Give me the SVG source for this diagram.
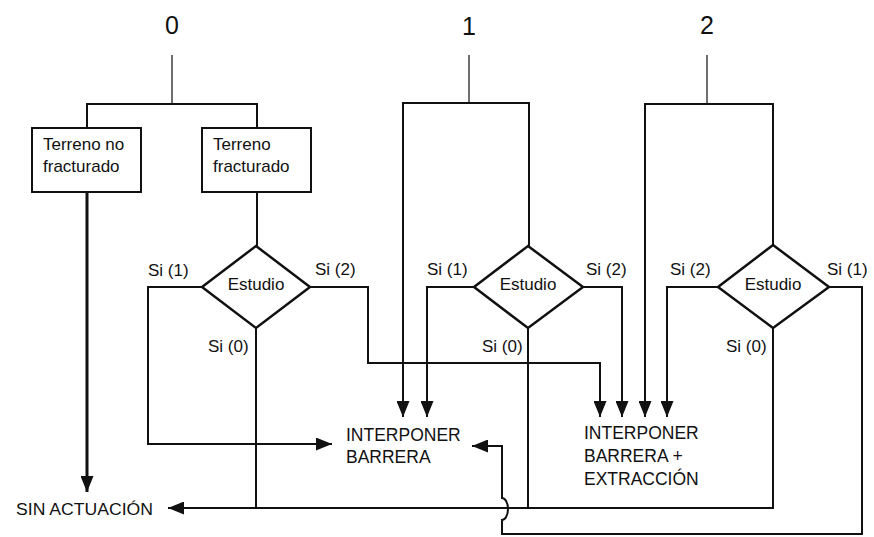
<svg xmlns="http://www.w3.org/2000/svg" width="874" height="537" viewBox="0 0 874 537">
<style>
  text { font-family: "Liberation Sans", Arial, sans-serif; fill: #111; }
  .num { font-size: 25px; text-anchor: middle; }
  .lbl { font-size: 17px; }
  .si { font-size: 17px; }
  .big { font-size: 17.5px; }
  .sin { font-size: 16.5px; }
  .box { fill: #fff; stroke: #111; stroke-width: 2; }
  .dia { fill: #fff; stroke: #111; stroke-width: 2.5; }
  .ln { fill: none; stroke: #111; stroke-width: 2; }
  .thick { stroke-width: 3; }
  .stem { fill: none; stroke: #333; stroke-width: 1.4; }
  .arr { marker-end: url(#ah); }
</style>
<defs>
  <marker id="ah" viewBox="0 0 16 13" refX="16" refY="6.5" markerWidth="16" markerHeight="13" markerUnits="userSpaceOnUse" orient="auto">
    <path d="M0,0 L16,6.5 L0,13 z" fill="#111"/>
  </marker>
</defs>
<rect width="874" height="537" fill="#fff"/>

<g id="connectors">
  <path class="stem" d="M172,55 V104"/>
  <path class="ln" d="M87,128 V104 H257 V128"/>
  <path class="ln thick arr" d="M87,192 V492"/>
  <path class="ln" d="M257,192 V246"/>
  <path class="ln arr" d="M202,287 H148 V444 H332"/>
  <path class="ln arr" d="M310,287 H368 V363 H600 V417"/>
  <path class="ln" d="M256,328 V508"/>
  <path class="ln" d="M528,328 V508"/>
  <path class="ln arr" d="M773,328 V508 H168"/>

  <path class="stem" d="M469,55 V103"/>
  <path class="ln arr" d="M469,103 H403 V417"/>
  <path class="ln" d="M469,103 H529 V246"/>
  <path class="ln arr" d="M474,287 H427 V417"/>
  <path class="ln arr" d="M583,287 H622 V417"/>

  <path class="stem" d="M707,55 V104"/>
  <path class="ln arr" d="M707,104 H645 V417"/>
  <path class="ln" d="M707,104 H773 V245"/>
  <path class="ln arr" d="M718,287 H667 V417"/>
  <path class="ln arr" d="M829,287 H862 V534 H502 V520 A6 11 0 0 0 502 498 V446 H472"/>
</g>

<g id="n-0"><text class="num" x="172" y="34">0</text></g>
<g id="n-1"><text class="num" x="469" y="35">1</text></g>
<g id="n-2"><text class="num" x="707" y="34">2</text></g>

<g id="box-no-fract">
  <rect class="box" x="32" y="128" width="109" height="64"/>
  <text class="lbl" x="43" y="150">Terreno no</text>
  <text class="lbl" x="43" y="172">fracturado</text>
</g>
<g id="box-fract">
  <rect class="box" x="202" y="128" width="109" height="64"/>
  <text class="lbl" x="213" y="150">Terreno</text>
  <text class="lbl" x="213" y="172">fracturado</text>
</g>

<g id="estudio-0">
  <polygon class="dia" points="256,246 310,287 256,328 202,287"/>
  <text class="lbl" x="256" y="290" text-anchor="middle">Estudio</text>
  <text class="si" x="148" y="276">Si (1)</text>
  <text class="si" x="315" y="275">Si (2)</text>
  <text class="si" x="208" y="352">Si (0)</text>
</g>
<g id="estudio-1">
  <polygon class="dia" points="528,246 583,287 528,328 474,287"/>
  <text class="lbl" x="528" y="290" text-anchor="middle">Estudio</text>
  <text class="si" x="427" y="275">Si (1)</text>
  <text class="si" x="586" y="275">Si (2)</text>
  <text class="si" x="482" y="352">Si (0)</text>
</g>
<g id="estudio-2">
  <polygon class="dia" points="773,245 829,287 773,328 718,287"/>
  <text class="lbl" x="773" y="290" text-anchor="middle">Estudio</text>
  <text class="si" x="670" y="275">Si (2)</text>
  <text class="si" x="827" y="275">Si (1)</text>
  <text class="si" x="726" y="352">Si (0)</text>
</g>

<g id="interponer-barrera">
  <text class="big" x="346" y="441">INTERPONER</text>
  <text class="big" x="346" y="463">BARRERA</text>
</g>
<g id="interponer-extraccion">
  <text class="big" x="584" y="439">INTERPONER</text>
  <text class="big" x="584" y="462">BARRERA +</text>
  <text class="big" x="584" y="485">EXTRACCIÓN</text>
</g>
<g id="sin-actuacion">
  <text class="sin" x="16" y="515" textLength="137" lengthAdjust="spacingAndGlyphs">SIN ACTUACIÓN</text>
</g>
</svg>
